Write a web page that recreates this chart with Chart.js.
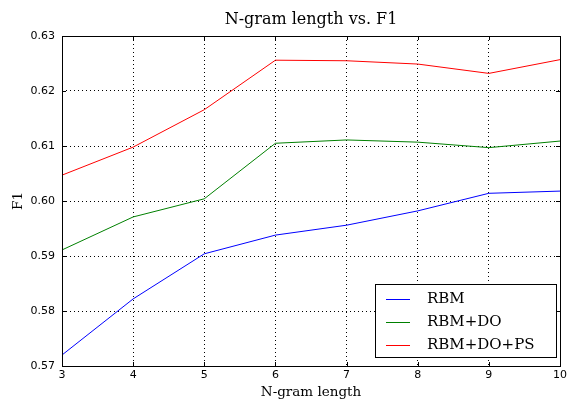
<!DOCTYPE html>
<html><head><meta charset="utf-8">
<script src="https://cdn.jsdelivr.net/npm/chart.js@4/dist/chart.umd.min.js"></script>
<style>html,body{margin:0;padding:0;background:#fff}#wrap{width:570px;height:401px}</style>
</head><body><div id="wrap"><canvas id="c" width="570" height="401"></canvas></div>
<script>
const ngram = [3, 4, 5, 6, 7, 8, 9, 10];
const rbm = [0.5720, 0.5822, 0.5904, 0.5938, 0.5956, 0.5982, 0.6014, 0.6018];
const rbmDo = [0.5911, 0.5971, 0.6004, 0.6105, 0.6111, 0.6107, 0.6097, 0.6109];
const rbmDoPs = [0.6047, 0.6098, 0.6166, 0.6256, 0.6255, 0.6249, 0.6232, 0.6257];
const yTicks = [0.57, 0.58, 0.59, 0.60, 0.61, 0.62, 0.63];
const seriesNames = ['RBM', 'RBM+DO', 'RBM+DO+PS'];
const seriesColors = ['#0000ff', '#008000', '#ff0000'];
const chartTitle = 'N-gram length vs. F1';

const mk = (vals) => ngram.map((x, i) => ({x, y: vals[i]}));
const SERIF = '"DejaVu Serif", "Liberation Serif", serif';

const framePlugin = {
  id: 'frame',
  afterDatasetsDraw(chart) {
    const {ctx, chartArea: a, scales} = chart;
    ctx.save();
    // title centred over plot area
    ctx.fillStyle = '#000';
    ctx.font = '16px ' + SERIF;
    ctx.textAlign = 'center';
    ctx.textBaseline = 'alphabetic';
    ctx.fillText(chartTitle, (a.left + a.right) / 2, 24);
    // inward ticks
    ctx.strokeStyle = '#000'; ctx.lineWidth = 1;
    ctx.beginPath();
    ngram.forEach(v => {
      const px = Math.round(scales.x.getPixelForValue(v)) + 0.5;
      ctx.moveTo(px, a.bottom); ctx.lineTo(px, a.bottom - 4);
      ctx.moveTo(px, a.top); ctx.lineTo(px, a.top + 4);
    });
    yTicks.forEach(v => {
      const py = Math.round(scales.y.getPixelForValue(v)) + 0.5;
      ctx.moveTo(a.left, py); ctx.lineTo(a.left + 4, py);
      ctx.moveTo(a.right, py); ctx.lineTo(a.right - 4, py);
    });
    ctx.stroke();
    ctx.strokeRect(Math.round(a.left) + 0.5, Math.round(a.top) + 0.5, Math.round(a.right - a.left), Math.round(a.bottom - a.top));
    // legend
    const bx = 375.5, by = 284.5, bw = 181, bh = 73;
    ctx.fillStyle = '#fff';
    ctx.fillRect(bx, by, bw, bh);
    ctx.strokeRect(bx, by, bw, bh);
    ctx.font = '15px ' + SERIF;
    ctx.textBaseline = 'middle';
    ctx.textAlign = 'left';
    chart.data.datasets.forEach((ds, i) => {
      const y = by + 14 + i * 23;
      ctx.strokeStyle = ds.borderColor;
      ctx.beginPath(); ctx.moveTo(386, Math.round(y) + 0.5); ctx.lineTo(410, Math.round(y) + 0.5); ctx.stroke();
      ctx.fillStyle = '#000';
      ctx.fillText(ds.label, 427, y + 1);
    });
    ctx.restore();
  }
};

new Chart(document.getElementById('c'), {
  type: 'line',
  data: {
    datasets: [
      {label: seriesNames[0], data: mk(rbm), borderColor: seriesColors[0]},
      {label: seriesNames[1], data: mk(rbmDo), borderColor: seriesColors[1]},
      {label: seriesNames[2], data: mk(rbmDoPs), borderColor: seriesColors[2]}
    ].map(d => Object.assign(d, {borderWidth: 1, pointRadius: 0, tension: 0, fill: false}))
  },
  options: {
    responsive: false,
    animation: false,
    devicePixelRatio: 1,
    layout: {padding: {left: 0, right: 7, top: 36, bottom: 0}},
    plugins: {
      legend: {display: false},
      tooltip: {enabled: false},
      title: {display: false}
    },
    scales: {
      x: {
        type: 'linear', min: 3, max: 10,
        afterBuildTicks: s => { s.ticks = ngram.map(v => ({value: v})); },
        ticks: {color: '#000', font: {family: '"DejaVu Sans", sans-serif', size: 11}, padding: 3},
        grid: {color: '#000', lineWidth: 1, drawTicks: false},
        border: {display: false, dash: [1, 3]},
        title: {display: true, text: 'N-gram length', color: '#000', padding: {top: 0, bottom: 0},
          font: {family: SERIF, size: 13.5}},
        afterFit: s => { s.height = 35; }
      },
      y: {
        type: 'linear', min: 0.57, max: 0.63,
        afterBuildTicks: s => { s.ticks = yTicks.map(v => ({value: v})); },
        ticks: {color: '#000', font: {family: '"DejaVu Sans", sans-serif', size: 11}, padding: 7,
          callback: v => v.toFixed(2)},
        grid: {color: '#000', lineWidth: 1, drawTicks: false},
        border: {display: false, dash: [1, 3]},
        title: {display: true, text: 'F1', color: '#000', padding: {top: 10, bottom: 4},
          font: {family: SERIF, size: 13.5}},
        afterFit: s => { s.width = 62; }
      }
    }
  },
  plugins: [framePlugin]
});
</script>
</body></html>
